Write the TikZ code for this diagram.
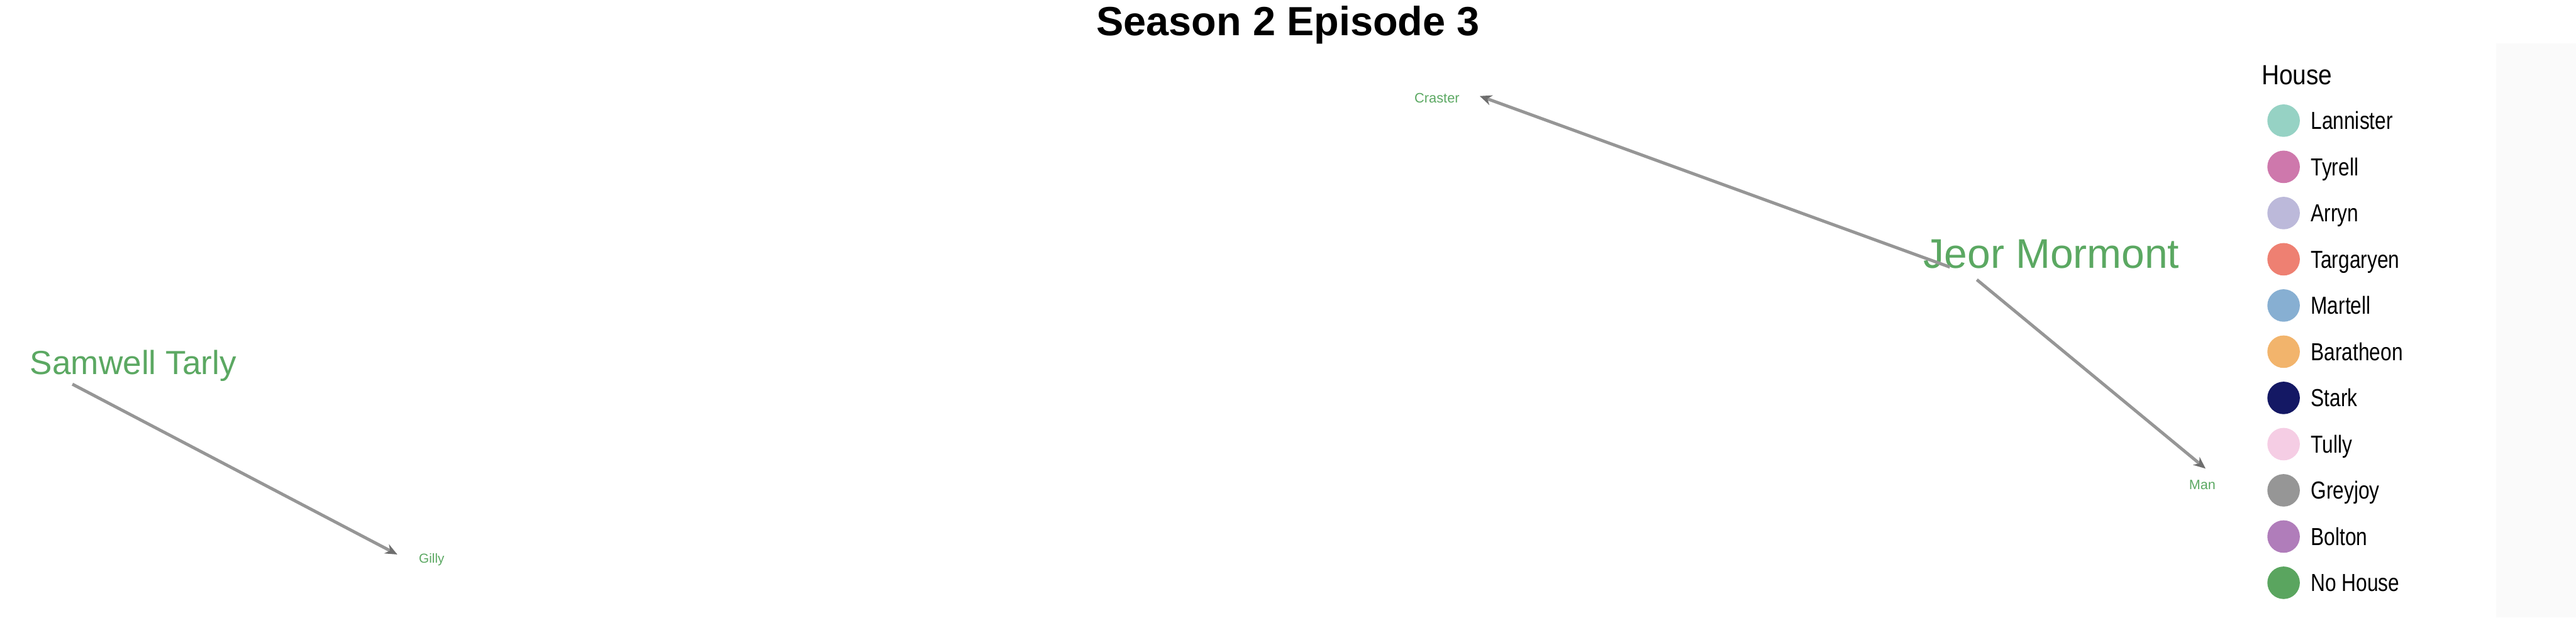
\documentclass[tikz,border=0pt]{standalone}
\usepackage{fontspec}
\setmainfont{Liberation Sans}
\newfontfamily\keyfont[FakeStretch=0.81]{Liberation Sans}
\newfontfamily\headfont[FakeStretch=0.88]{Liberation Sans}
\usepackage{tikz}
\usetikzlibrary{positioning,arrows.meta}
\definecolor{NameGreen}{RGB}{91,168,98}
\definecolor{EdgeGray}{RGB}{150,150,150}
\definecolor{TipGray}{RGB}{110,110,110}
\definecolor{StripGray}{RGB}{250,250,250}
\definecolor{Lannister}{RGB}{150,210,196}
\definecolor{Tyrell}{RGB}{206,120,172}
\definecolor{Arryn}{RGB}{188,185,218}
\definecolor{Targaryen}{RGB}{238,128,114}
\definecolor{Martell}{RGB}{135,175,210}
\definecolor{Baratheon}{RGB}{242,180,108}
\definecolor{Stark}{RGB}{20,24,100}
\definecolor{Tully}{RGB}{245,205,228}
\definecolor{Greyjoy}{RGB}{150,150,150}
\definecolor{Bolton}{RGB}{176,125,186}
\definecolor{NoHouse}{RGB}{90,165,95}

\begin{document}
\begin{tikzpicture}[
    charname/.style={text=NameGreen, inner sep=0pt, anchor=base},
    edge/.style={draw=EdgeGray, line width=1.9pt,
                 -{Stealth[length=0.26cm, width=0.22cm, color=TipGray]}},
    dot/.style={circle, inner sep=0pt, outer sep=0pt, minimum size=0.7cm},
    key/.style={inner sep=0pt, text height=10.7pt, text depth=0pt,
                font=\keyfont\fontsize{15.1}{18}\selectfont}
]
    \useasboundingbox (0,0) rectangle (55.5,-13.31);
    \fill[StripGray] (53.78,-0.93) rectangle (55.5,-13.31);

    \node[anchor=base, inner sep=0pt, font=\bfseries\fontsize{25}{30}\selectfont] (title)
        at (27.75,-0.76) {Season 2 Episode 3};

    % characters
    \node[charname, font=\fontsize{20.5}{24}\selectfont] (samwell) at (2.87,-8.07) {Samwell Tarly};
    \node[charname, font=\fontsize{8}{10}\selectfont] (gilly) at (9.30,-12.13) {Gilly};
    \node[charname, font=\fontsize{8.4}{10}\selectfont] (craster) at (30.96,-2.22) {Craster};
    \node[charname, font=\fontsize{25.4}{30}\selectfont] (jeor) at (44.20,-5.78) {Jeor Mormont};
    \node[charname, font=\fontsize{8.3}{10}\selectfont] (man) at (47.45,-10.55) {Man};

    \coordinate (samv) at (1.56,-8.28);
    \coordinate (gillyv) at (8.56,-11.95);
    \coordinate (jeorv) at (42.46,-5.92);
    \coordinate (crasterv) at (31.88,-2.07);
    \coordinate (manv) at (47.52,-10.10);

    \draw[edge] (samv) -- (gillyv);
    \draw[edge, shorten <=0.48cm] (jeorv) -- (crasterv);
    \draw[edge, shorten <=0.17cm] (jeorv) -- (manv);

    % legend
    \node[anchor=base west, inner sep=0pt, font=\headfont\fontsize{17}{20}\selectfont] (house)
        at (48.72,-1.82) {House};
    \node[dot, fill=Lannister] (lan) at (49.20,-2.60) {};
    \node[dot, fill=Tyrell, below=0.296cm of lan] (tyr) {};
    \node[dot, fill=Arryn, below=0.296cm of tyr] (arr) {};
    \node[dot, fill=Targaryen, below=0.296cm of arr] (tar) {};
    \node[dot, fill=Martell, below=0.296cm of tar] (mar) {};
    \node[dot, fill=Baratheon, below=0.296cm of mar] (bar) {};
    \node[dot, fill=Stark, below=0.296cm of bar] (sta) {};
    \node[dot, fill=Tully, below=0.296cm of sta] (tul) {};
    \node[dot, fill=Greyjoy, below=0.296cm of tul] (gre) {};
    \node[dot, fill=Bolton, below=0.296cm of gre] (bol) {};
    \node[dot, fill=NoHouse, below=0.296cm of bol] (noh) {};
    \node[key, right=0.23cm of lan] (klan) {Lannister};
    \node[key, right=0.23cm of tyr] (ktyr) {Tyrell};
    \node[key, right=0.23cm of arr] (karr) {Arryn};
    \node[key, right=0.23cm of tar] (ktar) {Targaryen};
    \node[key, right=0.23cm of mar] (kmar) {Martell};
    \node[key, right=0.23cm of bar] (kbar) {Baratheon};
    \node[key, right=0.23cm of sta] (ksta) {Stark};
    \node[key, right=0.23cm of tul] (ktul) {Tully};
    \node[key, right=0.23cm of gre] (kgre) {Greyjoy};
    \node[key, right=0.23cm of bol] (kbol) {Bolton};
    \node[key, right=0.23cm of noh] (knoh) {No House};
\end{tikzpicture}
\end{document}
